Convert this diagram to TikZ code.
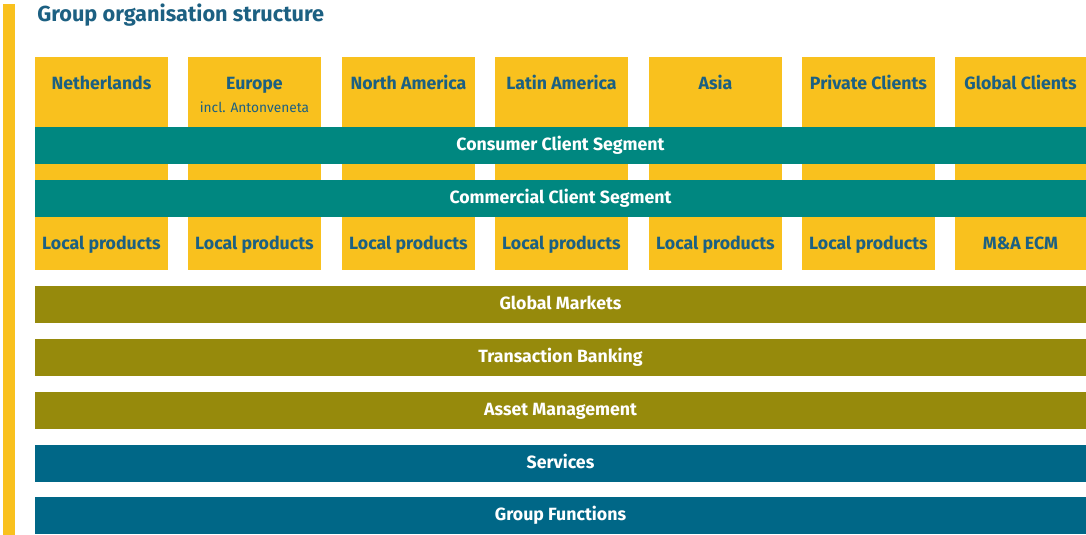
\documentclass[tikz,border=0pt]{standalone}
\usepackage{fontspec}
\setmainfont{Fira Sans}
\usetikzlibrary{positioning}
\definecolor{abnyellow}{RGB}{249,193,30}
\definecolor{abnteal}{RGB}{0,135,128}
\definecolor{abnolive}{RGB}{150,138,12}
\definecolor{abnblue}{RGB}{0,103,135}
\definecolor{abntext}{RGB}{28,96,130}
\tikzset{
        colbox/.style = {fill=abnyellow, rectangle, inner sep=0pt,
            minimum width=99.75pt,
            minimum height=159.75pt},
        lastbox/.style = {colbox, minimum width=98.25pt},
        toplabel/.style = {text=abntext, anchor=base, font=\bfseries\fontsize{13.3}{15}\selectfont, inner sep=0pt},
        sublabel/.style = {text=abntext, anchor=base, font=\fontsize{10.3}{12}\selectfont, inner sep=0pt},
        band/.style = {rectangle, inner sep=0pt, text=white,
            font=\bfseries\fontsize{13.3}{15}\selectfont,
            text height=10.5pt, text depth=2.3pt,
            minimum width=788.25pt, minimum height=27.75pt},
        segband/.style = {band, fill=abnteal},
        prodband/.style = {band, fill=abnolive},
        servband/.style = {band, fill=abnblue},
    }

\begin{document}
\begin{tikzpicture}[x=0.75pt,y=0.75pt,yscale=-1,xscale=1]
\useasboundingbox (0,0) rectangle (1086,535);

% left bar and title
\node [fill=abnyellow, inner sep=0pt, minimum width=9pt, minimum height=398.25pt] (leftbar) at (9,269.5) {};
\node [anchor=base west, inner sep=0pt, text=abntext, font=\bfseries\fontsize{16.3}{19}\selectfont] (title) at (37,21.5) {Group organisation structure};

% region columns
\node [colbox] (nl) at (101.5,163.5) {};
\node [colbox] (eu) at (254.5,163.5) {};
\node [colbox] (na) at (408.5,163.5) {};
\node [colbox] (la) at (561.5,163.5) {};
\node [colbox] (as) at (715.5,163.5) {};
\node [colbox] (pc) at (868.5,163.5) {};
\node [lastbox] (gc) at (1020.5,163.5) {};

% column headings
\node [toplabel] (nl-name) at (101.5,90) {Netherlands};
\node [toplabel] (eu-name) at (254.5,90) {Europe};
\node [sublabel] (eu-sub) at (254.5,113) {incl. Antonveneta};
\node [toplabel] (na-name) at (408.5,90) {North America};
\node [toplabel] (la-name) at (561.5,90) {Latin America};
\node [toplabel] (as-name) at (715.5,90) {Asia};
\node [toplabel] (pc-name) at (868.5,90) {Private Clients};
\node [toplabel] (gc-name) at (1020.5,90) {Global Clients};

% products
\node [toplabel] (nl-prod) at (101.5,249) {Local products};
\node [toplabel] (eu-prod) at (254.5,249) {Local products};
\node [toplabel] (na-prod) at (408.5,249) {Local products};
\node [toplabel] (la-prod) at (561.5,249) {Local products};
\node [toplabel] (as-prod) at (715.5,249) {Local products};
\node [toplabel] (pc-prod) at (868.5,249) {Local products};
\node [toplabel] (gc-prod) at (1020.5,249) {M\&A ECM};

% client segments
\node [segband] (consumer) at (560.5,145.5) {Consumer Client Segment};
\node [segband] (commercial) at (560.5,198) {Commercial Client Segment};

% product lines
\node [prodband] (markets) at (560.5,304.5) {Global Markets};
\node [prodband] (transaction) at (560.5,357) {Transaction Banking};
\node [prodband] (asset) at (560.5,410.5) {Asset Management};

% services and functions
\node [servband] (services) at (560.5,463) {Services};
\node [servband] (functions) at (560.5,515.5) {Group Functions};

\end{tikzpicture}
\end{document}
